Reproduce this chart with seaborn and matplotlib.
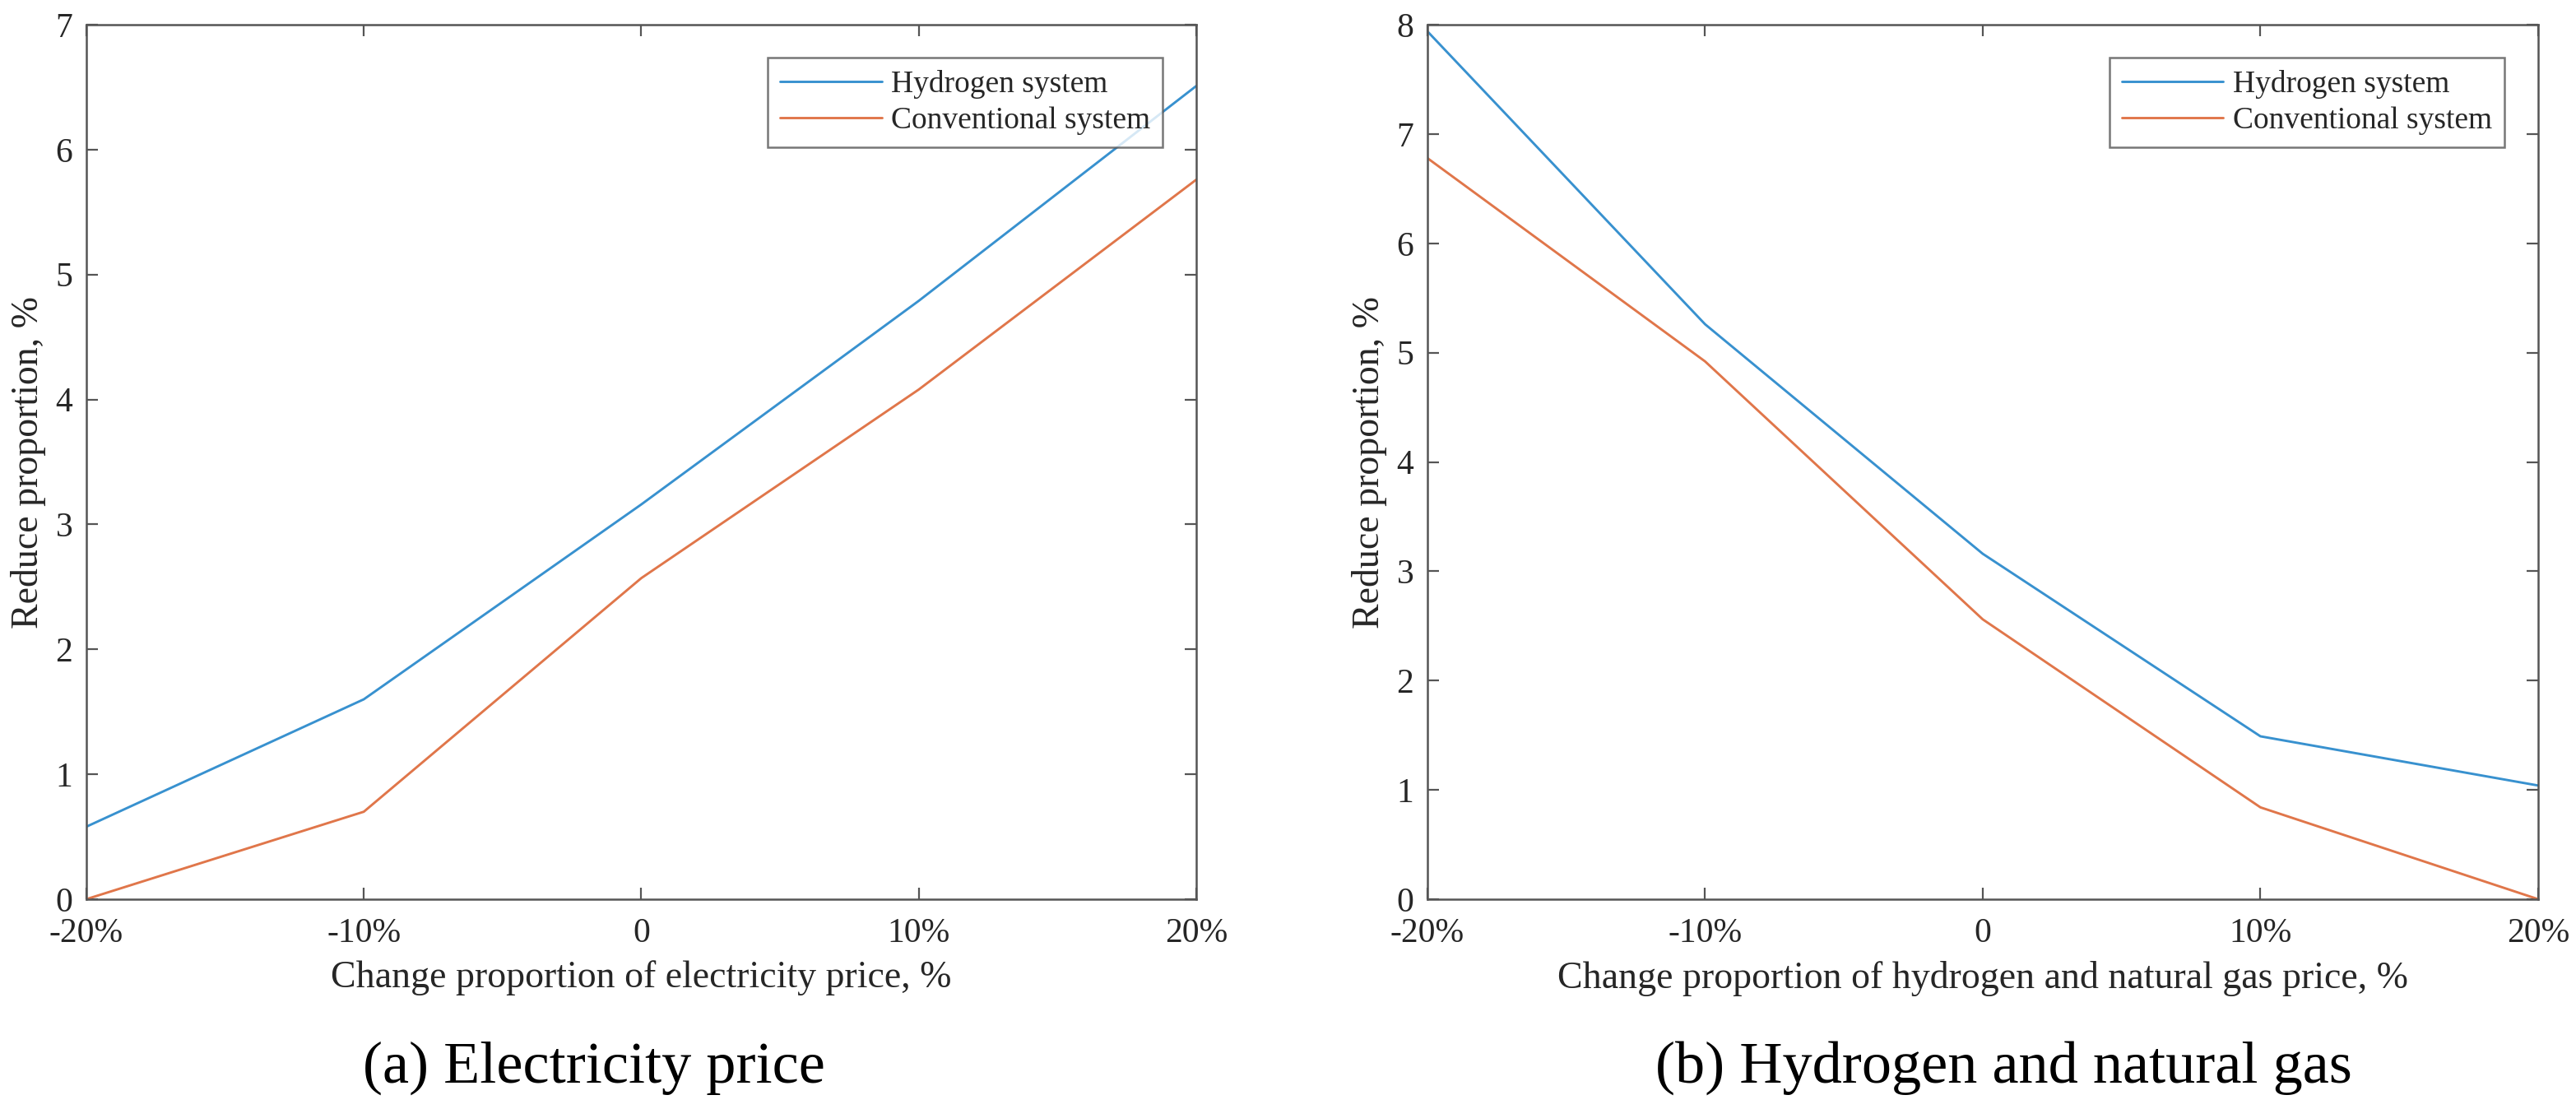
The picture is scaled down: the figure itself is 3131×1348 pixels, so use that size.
import numpy as np
import pandas as pd
import seaborn as sns
import matplotlib
matplotlib.use('Agg')
import matplotlib.pyplot as plt

# valores
change = [-20, -10, 0, 10, 20]
tick_labels = ['-20%', '-10%', '0', '10%', '20%']

elec_hydrogen = [0.58, 1.60, 3.16, 4.79, 6.51]
elec_conventional = [0.0, 0.70, 2.57, 4.08, 5.76]

gas_hydrogen = [7.94, 5.26, 3.16, 1.49, 1.04]
gas_conventional = [6.78, 4.92, 2.56, 0.84, 0.0]

series_names = ['Hydrogen system', 'Conventional system']
colors = ['#3891CF', '#E0764A']

sns.set_theme(style='white')
plt.rcParams['font.family'] = ['Liberation Serif', 'DejaVu Serif']


def make_df(h, c):
    return pd.DataFrame({
        'change': change * 2,
        'value': h + c,
        'system': [series_names[0]] * len(h) + [series_names[1]] * len(c),
    })


fig = plt.figure(figsize=(15.655, 6.74), dpi=200)
ax1 = fig.add_axes([0.0335, 0.1892, 0.4309, 0.7885])
ax2 = fig.add_axes([0.5541, 0.1892, 0.4312, 0.7885])

panels = [
    (ax1, make_df(elec_hydrogen, elec_conventional), 7,
     'Change proportion of electricity price, %'),
    (ax2, make_df(gas_hydrogen, gas_conventional), 8,
     'Change proportion of hydrogen and natural gas price, %'),
]

for ax, df, ymax, xlabel in panels:
    sns.lineplot(data=df, x='change', y='value', hue='system',
                 palette=colors, linewidth=1.05, ax=ax, legend=True)
    ax.set_xlim(-20, 20)
    ax.set_ylim(0, ymax)
    ax.set_xticks(change)
    ax.set_xticklabels(tick_labels)
    ax.set_yticks(range(0, ymax + 1))
    ax.set_xlabel(xlabel, fontsize=16.5, color='#262626', labelpad=5)
    ax.set_ylabel('Reduce proportion, %', fontsize=16.5, color='#262626', labelpad=4)
    ax.tick_params(direction='in', length=5, width=0.8, color='#555555',
                   labelsize=15, labelcolor='#262626', top=True, right=True,
                   bottom=True, left=True)
    ax.tick_params(axis='x', pad=8)
    ax.tick_params(axis='y', pad=6)
    for s in ax.spines.values():
        s.set_color('#555555')
        s.set_linewidth(0.9)
        s.set_visible(True)
    leg = ax.legend(loc='upper right', bbox_to_anchor=(0.9696, 0.9624),
                    fontsize=13.5, frameon=True, fancybox=False,
                    handlelength=3.3, borderpad=0.4, labelspacing=0.25,
                    handletextpad=0.3, borderaxespad=0)
    leg.get_frame().set_edgecolor('#555555')
    leg.get_frame().set_linewidth(0.9)
    for line in leg.get_lines():
        line.set_linewidth(1.05)

fig.text(0.2306, 0.0237, '(a) Electricity price', fontsize=26,
         ha='center', va='baseline', color='black')
fig.text(0.778, 0.0237, '(b) Hydrogen and natural gas', fontsize=26,
         ha='center', va='baseline', color='black')

fig.savefig('out.png', dpi=200)
